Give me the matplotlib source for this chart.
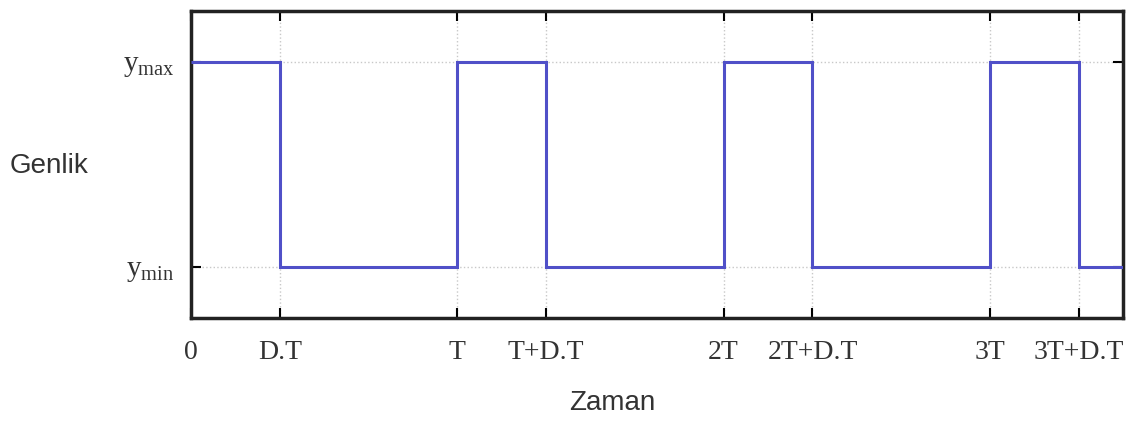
import matplotlib
matplotlib.use("Agg")
import matplotlib.pyplot as plt

# sinyal kare: waktu transisi (dalam satuan T) dan level
waktu = [0, 0.334, 1, 1.334, 2, 2.334, 3, 3.334, 3.5]
level = [1, 0, 1, 0, 1, 0, 1, 0]

xtick_pos = [0, 0.334, 1, 1.334, 2, 2.334, 3, 3.334]
xtick_lab = ["0", "D.T", "T", "T+D.T", "2T", "2T+D.T", "3T", "3T+D.T"]
ytick_pos = [0, 1]
ytick_lab = [r"$\mathregular{y_{min}}$", r"$\mathregular{y_{max}}$"]

fig = plt.figure(figsize=(11.34, 4.23), dpi=100)
ax = fig.add_axes([0.1684, 0.2482, 0.8219, 0.7258])
ax.set_axisbelow(True)

ax.stairs(level, waktu, color="#5050c8", linewidth=2.2, baseline=None, zorder=3)

ax.set_xlim(0, 3.5)
ax.set_ylim(-0.25, 1.25)
ax.set_xticks(xtick_pos)
ax.set_xticklabels(xtick_lab, family="Liberation Serif", fontsize=20, color="#333333")
ax.set_yticks(ytick_pos)
ax.set_yticklabels(ytick_lab, family="Liberation Serif", fontsize=21, color="#333333")
ax.tick_params(direction="in", length=7, width=1.5, top=True, right=True)
ax.tick_params(axis="x", pad=16)
ax.tick_params(axis="y", pad=12)

ax.grid(True, color="#c8c8c8", linestyle=":", linewidth=1)
for s in ax.spines.values():
    s.set_linewidth(2.5)
    s.set_color("#222222")

ax.set_xlabel("Zaman", family="Liberation Sans", fontsize=20, va="center", color="#333333")
ax.xaxis.set_label_coords(0.452, -0.277)
ax.set_ylabel("Genlik", family="Liberation Sans", fontsize=20, rotation=0,
              va="center", ha="right", color="#333333")
ax.yaxis.set_label_coords(-0.110, 0.495)

fig.savefig("out.png", dpi=100)
